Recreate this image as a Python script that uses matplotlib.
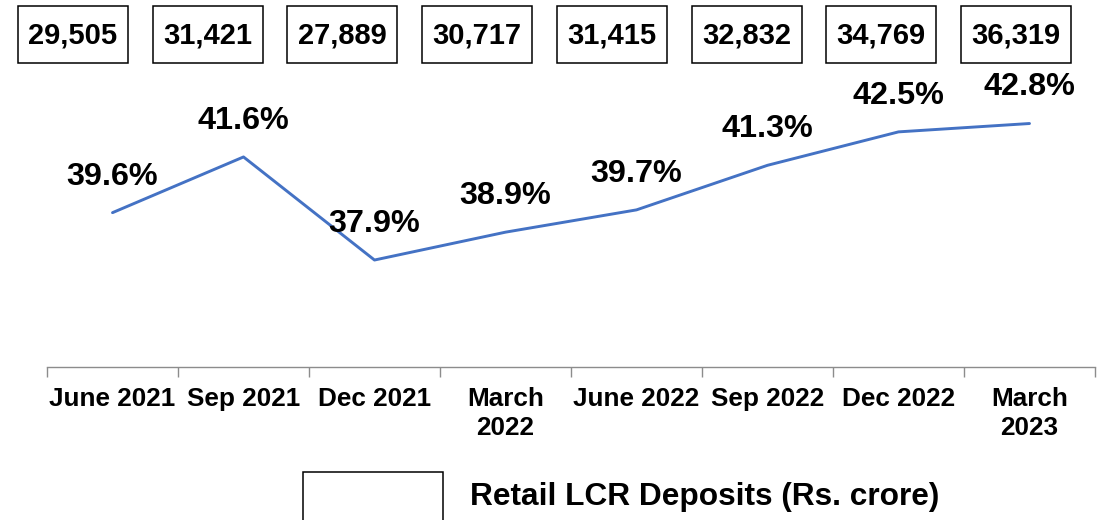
import numpy as np
import matplotlib
matplotlib.use("Agg")
import matplotlib.pyplot as plt
from matplotlib.patches import Rectangle

plt.rcParams['font.family'] = ['Liberation Sans', 'DejaVu Sans']
plt.rcParams['font.weight'] = 'bold'

quarters = ["June 2021", "Sep 2021", "Dec 2021", "March\n2022",
            "June 2022", "Sep 2022", "Dec 2022", "March\n2023"]
lcr_pct = [39.6, 41.6, 37.9, 38.9, 39.7, 41.3, 42.5, 42.8]
deposits = [29505, 31421, 27889, 30717, 31415, 32832, 34769, 36319]
legend_label = "Retail LCR Deposits (Rs. crore)"

W, H = 1119, 520
fig = plt.figure(figsize=(W / 100, H / 100), dpi=100)

# axes in pixel coords: x 47..1095, y 60..367 (from top)
ax = fig.add_axes([47 / W, (H - 367) / H, (1095 - 47) / W, (367 - 60) / H])
x = np.arange(len(quarters))
ax.plot(x, lcr_pct, color="#4472C4", lw=2.1, solid_capstyle="round")
ax.set_xlim(-0.5, len(quarters) - 0.5)
ax.set_ylim(34.06, 45.08)

for xi, v in zip(x, lcr_pct):
    ax.annotate(f"{v:.1f}%", (xi, v), xytext=(0, 26), textcoords="offset points",
                ha="center", va="center", fontsize=23.3, fontweight="bold")

for s in ["top", "right", "left"]:
    ax.spines[s].set_visible(False)
ax.spines["bottom"].set_color("#8c8c8c")
ax.spines["bottom"].set_linewidth(1.0)
ax.set_yticks([])
ax.set_xticks(x)
ax.set_xticklabels(quarters, fontsize=18.8, fontweight="bold", linespacing=1.25)
ax.tick_params(axis="x", which="major", length=0, pad=14.5)
ax.set_xticks(np.arange(-0.5, len(quarters)), minor=True)
ax.tick_params(axis="x", which="minor", length=7, width=1.0, color="#8c8c8c")

# deposit value boxes along the top
for i, d in enumerate(deposits):
    cx = 73 + i * 134.7
    fig.patches.append(Rectangle(((cx - 55) / W, (H - 63) / H), 110 / W, 57 / H,
                                 transform=fig.transFigure, fill=False,
                                 edgecolor="black", lw=1.1))
    fig.text(cx / W, (H - 35) / H, f"{d:,}", ha="center", va="center",
             fontsize=21, fontweight="bold")

# legend entry (bars drawn with no fill)
fig.patches.append(Rectangle((303 / W, (H - 530) / H), 140 / W, 58 / H,
                             transform=fig.transFigure, fill=False,
                             edgecolor="black", lw=1.1))
fig.text(470 / W, (H - 497) / H, legend_label, ha="left", va="center",
         fontsize=22.8, fontweight="bold")

fig.savefig("out.png", dpi=100)
